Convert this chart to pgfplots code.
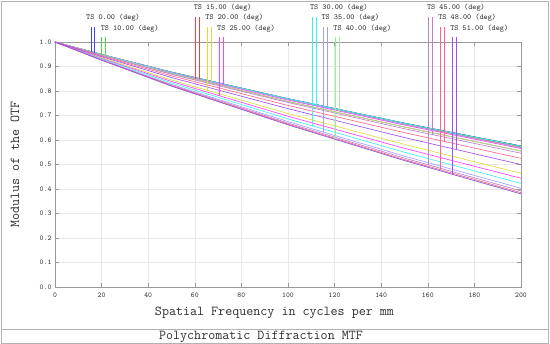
\documentclass[border=0pt]{standalone}
\usepackage{pgfplots}
\pgfplotsset{compat=1.18}
\definecolor{fBlue}{RGB}{64,64,255}
\definecolor{fGreen}{RGB}{64,224,64}
\definecolor{fRed}{RGB}{255,60,60}
\definecolor{fYellow}{RGB}{220,220,60}
\definecolor{fMag}{RGB}{255,64,255}
\definecolor{fCyan}{RGB}{64,240,240}
\definecolor{fLav}{RGB}{160,160,255}
\definecolor{fLGreen}{RGB}{150,240,150}
\definecolor{fOrchid}{RGB}{192,128,200}
\definecolor{fPink}{RGB}{255,100,140}
\definecolor{fViolet}{RGB}{160,80,240}
\definecolor{txt}{RGB}{45,45,45}
\begin{document}
\begin{tikzpicture}
\useasboundingbox (-55bp,-57bp) rectangle (495bp,287bp);
\draw[gray!60, line width=0.8bp] (-54bp,-56bp) rectangle (493bp,286bp);
\draw[gray!60, line width=0.8bp] (-54bp,-42bp) -- (493bp,-42bp);
\node[txt, font=\ttfamily\fontsize{13.7}{13.7}\selectfont] at (206bp,-49.5bp) {Polychromatic Diffraction MTF};
\begin{axis}[
  at={(0,0)}, anchor=south west,
  scale only axis, width=466bp, height=245bp,
  xmin=0, xmax=200, ymin=0, ymax=1,
  xtick={0,20,...,200}, ytick={0,0.1,...,1.0},
  yticklabel style={/pgf/number format/.cd, fixed, fixed zerofill, precision=1},
  /pgf/number format/assume math mode=true,
  ticklabel style={font=\ttfamily\fontsize{7.4}{7.4}\selectfont, txt},
  xticklabel style={yshift=-2bp},
  tick align=inside, major tick length=4bp,
  xtick pos=both, ytick pos=both, xticklabel pos=lower, yticklabel pos=left,
  tick style={gray!80, line width=0.6bp},
  axis line style={gray!80, line width=0.8bp},
  grid=major, major grid style={gray!18, line width=0.6bp},
  xlabel={Spatial Frequency in cycles per mm},
  ylabel={Modulus of the OTF},
  label style={font=\ttfamily\fontsize{13.7}{13.7}\selectfont, txt},
  xlabel style={at={(rel axis cs:0.471,0)}, anchor=center, yshift=-26bp},
  ylabel style={at={(rel axis cs:0,0.5)}, anchor=center, yshift=40bp},
  clip=false,
  every axis plot/.append style={line width=0.65bp, mark=none},
]
% field 0
\addplot[color=fBlue] coordinates {(0,1) (20,0.949) (50,0.877) (100,0.769) (150,0.669) (200,0.576)};
\addplot[color=fBlue] coordinates {(0,1) (20,0.949) (50,0.877) (100,0.768) (150,0.668) (200,0.575)};
% field 10
\addplot[color=fGreen] coordinates {(0,1) (20,0.948) (50,0.875) (100,0.766) (150,0.665) (200,0.570)};
\addplot[color=fGreen] coordinates {(0,1) (20,0.949) (50,0.877) (100,0.768) (150,0.668) (200,0.575)};
% field 15
\addplot[color=fRed] coordinates {(0,1) (20,0.947) (50,0.871) (100,0.757) (150,0.653) (200,0.555)};
\addplot[color=fRed] coordinates {(0,1) (20,0.949) (50,0.876) (100,0.766) (150,0.665) (200,0.571)};
% field 20
\addplot[color=fYellow] coordinates {(0,1) (20,0.936) (50,0.845) (100,0.708) (150,0.582) (200,0.464)};
\addplot[color=fYellow] coordinates {(0,1) (20,0.948) (50,0.875) (100,0.765) (150,0.663) (200,0.568)};
% field 25
\addplot[color=fMag] coordinates {(0,1) (20,0.933) (50,0.839) (100,0.697) (150,0.566) (200,0.444)};
\addplot[color=fMag] coordinates {(0,1) (20,0.948) (50,0.874) (100,0.763) (150,0.661) (200,0.565)};
% field 30
\addplot[color=fCyan] coordinates {(0,1) (20,0.931) (50,0.833) (100,0.686) (150,0.550) (200,0.423)};
\addplot[color=fCyan] coordinates {(0,1) (20,0.949) (50,0.876) (100,0.768) (150,0.668) (200,0.574)};
% field 35
\addplot[color=fLav] coordinates {(0,1) (20,0.928) (50,0.827) (100,0.675) (150,0.534) (200,0.403)};
\addplot[color=fLav] coordinates {(0,1) (20,0.948) (50,0.875) (100,0.765) (150,0.664) (200,0.569)};
% field 40
\addplot[color=fLGreen] coordinates {(0,1) (20,0.926) (50,0.820) (100,0.662) (150,0.516) (200,0.380)};
\addplot[color=fLGreen] coordinates {(0,1) (20,0.947) (50,0.871) (100,0.757) (150,0.653) (200,0.555)};
% field 45
\addplot[color=fOrchid] coordinates {(0,1) (20,0.927) (50,0.824) (100,0.669) (150,0.526) (200,0.392)};
\addplot[color=fOrchid] coordinates {(0,1) (20,0.946) (50,0.868) (100,0.753) (150,0.646) (200,0.546)};
% field 48
\addplot[color=fPink] coordinates {(0,1) (20,0.926) (50,0.822) (100,0.665) (150,0.520) (200,0.385)};
\addplot[color=fPink] coordinates {(0,1) (20,0.943) (50,0.862) (100,0.741) (150,0.630) (200,0.525)};
% field 51
\addplot[color=fViolet] coordinates {(0,1) (20,0.926) (50,0.820) (100,0.662) (150,0.516) (200,0.380)};
\addplot[color=fViolet] coordinates {(0,1) (20,0.940) (50,0.855) (100,0.728) (150,0.610) (200,0.500)};
% markers (thin filled strips, about 1px wide)
\addplot[fill=fBlue, draw=none] coordinates {(15.3,0.961) (15.7,0.961) (15.7,1.062) (15.3,1.062)};
\addplot[fill=fBlue, draw=none] coordinates {(16.7,0.957) (17.1,0.957) (17.1,1.062) (16.7,1.062)};
\addplot[fill=fGreen, draw=none] coordinates {(19.9,0.948) (20.3,0.948) (20.3,1.022) (19.9,1.022)};
\addplot[fill=fGreen, draw=none] coordinates {(21.6,0.945) (22.0,0.945) (22.0,1.022) (21.6,1.022)};
\addplot[fill=fRed, draw=none] coordinates {(60.0,0.848) (60.4,0.848) (60.4,1.103) (60.0,1.103)};
\addplot[fill=fRed, draw=none] coordinates {(61.7,0.849) (62.1,0.849) (62.1,1.103) (61.7,1.103)};
\addplot[fill=fYellow, draw=none] coordinates {(65.3,0.802) (65.7,0.802) (65.7,1.062) (65.3,1.062)};
\addplot[fill=fYellow, draw=none] coordinates {(67.0,0.837) (67.4,0.837) (67.4,1.062) (67.0,1.062)};
\addplot[fill=fMag, draw=none] coordinates {(70.2,0.781) (70.6,0.781) (70.6,1.022) (70.2,1.022)};
\addplot[fill=fMag, draw=none] coordinates {(71.9,0.825) (72.3,0.825) (72.3,1.022) (71.9,1.022)};
\addplot[fill=fCyan, draw=none] coordinates {(110.2,0.657) (110.6,0.657) (110.6,1.103) (110.2,1.103)};
\addplot[fill=fCyan, draw=none] coordinates {(111.9,0.744) (112.3,0.744) (112.3,1.103) (111.9,1.103)};
\addplot[fill=fLav, draw=none] coordinates {(115.2,0.632) (115.6,0.632) (115.6,1.062) (115.2,1.062)};
\addplot[fill=fLav, draw=none] coordinates {(116.9,0.731) (117.3,0.731) (117.3,1.062) (116.9,1.062)};
\addplot[fill=fLGreen, draw=none] coordinates {(120.2,0.603) (120.6,0.603) (120.6,1.022) (120.2,1.022)};
\addplot[fill=fLGreen, draw=none] coordinates {(122.0,0.711) (122.4,0.711) (122.4,1.022) (122.0,1.022)};
\addplot[fill=fOrchid, draw=none] coordinates {(160.1,0.498) (160.5,0.498) (160.5,1.103) (160.1,1.103)};
\addplot[fill=fOrchid, draw=none] coordinates {(162.0,0.621) (162.4,0.621) (162.4,1.103) (162.0,1.103)};
\addplot[fill=fPink, draw=none] coordinates {(165.4,0.478) (165.8,0.478) (165.8,1.062) (165.4,1.062)};
\addplot[fill=fPink, draw=none] coordinates {(167.0,0.593) (167.4,0.593) (167.4,1.062) (167.0,1.062)};
\addplot[fill=fViolet, draw=none] coordinates {(170.4,0.460) (170.8,0.460) (170.8,1.022) (170.4,1.022)};
\addplot[fill=fViolet, draw=none] coordinates {(172.0,0.561) (172.4,0.561) (172.4,1.022) (172.0,1.022)};
% labels
\begin{scope}[every node/.style={anchor=west, inner sep=0pt, txt, font=\ttfamily\fontsize{7.8}{7.8}\selectfont}]
\node at (axis cs:13.3,1.098) {TS 0.00 (deg)};
\node at (axis cs:19.6,1.053) {TS 10.00 (deg)};
\node at (axis cs:59.5,1.141) {TS 15.00 (deg)};
\node at (axis cs:64.5,1.098) {TS 20.00 (deg)};
\node at (axis cs:69.5,1.053) {TS 25.00 (deg)};
\node at (axis cs:109.4,1.141) {TS 30.00 (deg)};
\node at (axis cs:114.3,1.098) {TS 35.00 (deg)};
\node at (axis cs:119.4,1.053) {TS 40.00 (deg)};
\node at (axis cs:159.6,1.141) {TS 45.00 (deg)};
\node at (axis cs:164.4,1.098) {TS 48.00 (deg)};
\node at (axis cs:169.6,1.053) {TS 51.00 (deg)};
\end{scope}
\end{axis}
\end{tikzpicture}
\end{document}
